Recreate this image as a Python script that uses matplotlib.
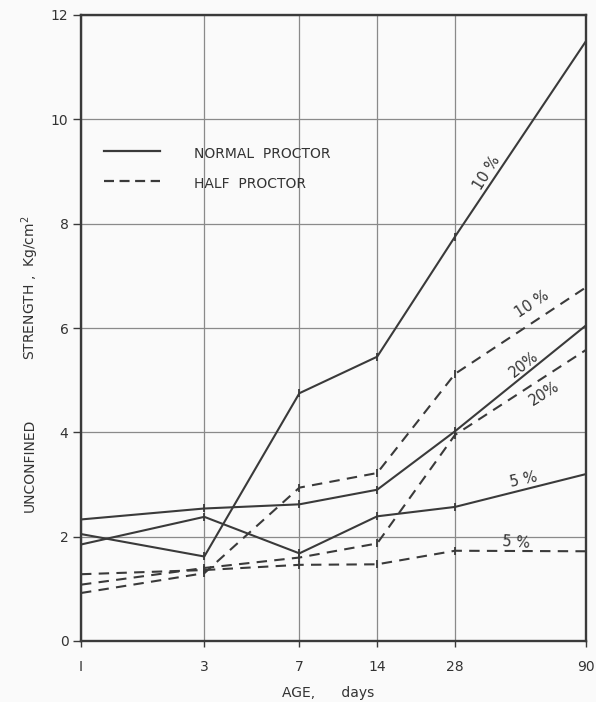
import matplotlib
matplotlib.use("Agg")
import matplotlib.pyplot as plt
from matplotlib.ticker import FixedLocator, NullLocator

# Curing age (days) and unconfined strength (kg/cm^2)
age_days = [1, 3, 7, 14, 28, 90]
age_labels = ["I", "3", "7", "14", "28", "90"]

normal_10 = [2.05, 1.62, 4.75, 5.45, 7.75, 11.5]
normal_20 = [2.33, 2.54, 2.62, 2.90, 4.02, 6.05]
normal_5 = [1.85, 2.38, 1.68, 2.39, 2.57, 3.20]

half_10 = [0.92, 1.30, 2.94, 3.22, 5.12, 6.78]
half_20 = [1.08, 1.40, 1.60, 1.87, 3.95, 5.58]
half_5 = [1.28, 1.36, 1.46, 1.47, 1.73, 1.72]

y_ticks = [0, 2, 4, 6, 8, 10, 12]

ink = "#3a3a3a"
txt = "#333333"
grid_c = "#8a8a8a"
bg = "#fafafa"

W, H = 596, 702
fig = plt.figure(figsize=(W / 100, H / 100), dpi=100)
fig.patch.set_facecolor(bg)
L, R, T, B = 81, 586, 15, 641
ax = fig.add_axes([L / W, 1 - B / H, (R - L) / W, (B - T) / H])
ax.set_facecolor(bg)

ax.set_xscale("log")
ax.set_xlim(1, 90)
ax.set_ylim(0, 12)
ax.xaxis.set_major_locator(FixedLocator(age_days))
ax.xaxis.set_minor_locator(NullLocator())
ax.set_xticks(age_days)
ax.set_xticklabels(age_labels)
ax.set_yticks(y_ticks)
ax.set_yticklabels([str(v) for v in y_ticks])
ax.grid(True, color=grid_c, lw=0.9)
ax.set_axisbelow(True)
for s in ax.spines.values():
    s.set_color(ink)
    s.set_linewidth(1.7)
ax.tick_params(axis="both", colors=ink, labelcolor=txt, labelsize=10, width=1.0)
ax.tick_params(axis="y", length=5.5, pad=3.5)
ax.tick_params(axis="x", length=4.5, pad=9)

line_kw = dict(color=ink, lw=1.5, marker="|", markersize=6, markeredgewidth=1.3)
for vals in (normal_10, normal_20, normal_5):
    ax.plot(age_days, vals, ls="-", **line_kw)
for vals in (half_10, half_20, half_5):
    ax.plot(age_days, vals, ls=(0, (5, 3.5)), **line_kw)

# curve annotations
lab_kw = dict(color=txt, fontsize=10.5, ha="center", va="center")
ax.text(37.3, 8.97, "10 %", rotation=58, **lab_kw)
ax.text(55.6, 6.45, "10 %", rotation=33, **lab_kw)
ax.text(51.8, 5.31, "20%", rotation=38, **lab_kw)
ax.text(61.8, 4.74, "20%", rotation=32, **lab_kw)
ax.text(51.8, 3.09, "5 %", rotation=12, **lab_kw)
ax.text(48.2, 1.89, "5 %", rotation=-4, **lab_kw)

# key
ax.plot([1.227, 2.02], [9.39, 9.39], color=ink, lw=1.6)
ax.plot([1.227, 2.02], [8.81, 8.81], color=ink, lw=1.6, ls=(0, (4.5, 2.5)))
key_kw = dict(color=txt, fontsize=10, va="center", ha="left")
fig.text(194 / W, 1 - 154 / H, "NORMAL  PROCTOR", **key_kw)
fig.text(194 / W, 1 - 184 / H, "HALF  PROCTOR", **key_kw)

# axis titles
yl_kw = dict(rotation=90, color=txt, fontsize=10, ha="center", va="center")
fig.text(30 / W, 1 - 465 / H, "UNCONFINED", **yl_kw)
fig.text(30 / W, 1 - 288 / H, "STRENGTH ,  Kg/cm$^2$", **yl_kw)
xl_kw = dict(color=txt, fontsize=10, ha="center", va="center")
fig.text(328 / W, 1 - 693 / H, "AGE,      days", **xl_kw)

fig.savefig("out.png", dpi=100, facecolor=fig.get_facecolor())
